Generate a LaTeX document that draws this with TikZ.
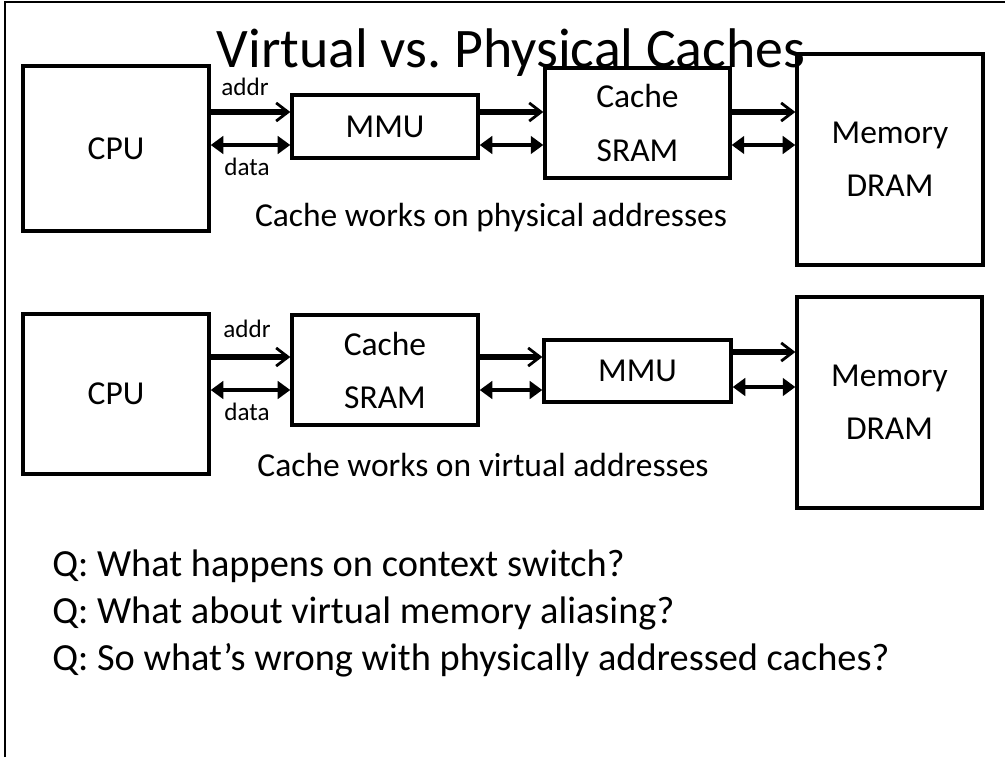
\documentclass[tikz,border=0pt]{standalone}
\usepackage{fontspec}
\setmainfont{Carlito}
\usetikzlibrary{arrows.meta}
\begin{document}
\begin{tikzpicture}[x=0.7164pt,y=-0.7164pt,
    unit/.style={draw,line width=2.4pt,inner sep=0pt,align=center,
      font=\fontsize{24}{38}\selectfont},
    addrbus/.style={line width=3.6pt,-{Straight Barb[length=8.5pt,width=13pt,line width=2pt]}},
    databus/.style={line width=3.2pt,{Triangle[length=9pt,width=12.5pt]}-{Triangle[length=9pt,width=12.5pt]}},
    lbl/.style={font=\fontsize{18}{20}\selectfont,inner sep=0pt},
    txt/.style={font=\fontsize{24}{28}\selectfont,inner sep=0pt,anchor=base}]
        \useasboundingbox (0,0) rectangle (1005,757);
        \draw[line width=2pt] (5,757) -- (5,2) -- (1005,2);
        \node[anchor=base,inner sep=0pt,font=\fontsize{40}{44}\selectfont] (title) at (511,67) {\frenchspacing Virtual vs. Physical Caches};
        % physical cache
        \node[unit,minimum width=133.3pt,minimum height=118.2pt] (cpuA) at (116,148.5) {CPU};
        \node[unit,minimum width=133.3pt,minimum height=45.1pt] (mmuA) at (385,126.5) {MMU};
        \node[unit,minimum width=132.5pt,minimum height=78.8pt] (cacheA) at (637.5,123) {Cache\\SRAM};
        \node[unit,minimum width=133.3pt,minimum height=151.2pt] (memA) at (890,159.5) {Memory\\DRAM};
        \draw[addrbus] (cpuA.east |- 0,112) -- (mmuA.west |- 0,112);
        \draw[databus] (cpuA.east |- 0,145) -- (mmuA.west |- 0,145);
        \draw[addrbus] (mmuA.east |- 0,112) -- (cacheA.west |- 0,112);
        \draw[databus] (mmuA.east |- 0,145) -- (cacheA.west |- 0,145);
        \draw[addrbus] (cacheA.east |- 0,112) -- (memA.west |- 0,112);
        \draw[databus] (cacheA.east |- 0,145) -- (memA.west |- 0,145);
        \node[lbl] (addrA) at (245,87) {addr};
        \node[lbl] (dataA) at (247,167) {data};
        \node[txt] (capA) at (491,226) {Cache works on physical addresses};
        % virtual cache
        \node[unit,minimum width=133.3pt,minimum height=114.6pt] (cpuB) at (116,394) {CPU};
        \node[unit,minimum width=133.3pt,minimum height=78.8pt] (cacheB) at (385,370) {Cache\\SRAM};
        \node[unit,minimum width=134pt,minimum height=44.4pt] (mmuB) at (637.5,371) {MMU};
        \node[unit,minimum width=132.5pt,minimum height=151.2pt] (memB) at (889.5,402.5) {Memory\\DRAM};
        \draw[addrbus] (cpuB.east |- 0,357) -- (cacheB.west |- 0,357);
        \draw[databus] (cpuB.east |- 0,390) -- (cacheB.west |- 0,390);
        \draw[addrbus] (cacheB.east |- 0,357) -- (mmuB.west |- 0,357);
        \draw[databus] (cacheB.east |- 0,390) -- (mmuB.west |- 0,390);
        \draw[addrbus] (mmuB.east |- 0,352) -- (memB.west |- 0,352);
        \draw[databus] (mmuB.east |- 0,387) -- (memB.west |- 0,387);
        \node[lbl] (addrB) at (247,329) {addr};
        \node[lbl] (dataB) at (247,412) {data};
        \node[txt] (capB) at (483,476) {Cache works on virtual addresses};
        % questions
        \node[txt,anchor=base west,font=\fontsize{27.5}{30}\selectfont] (q1) at (52,576) {Q: What happens on context switch?};
        \node[txt,anchor=base west,font=\fontsize{27.5}{30}\selectfont] (q2) at (52,623) {Q: What about virtual memory aliasing?};
        \node[txt,anchor=base west,font=\fontsize{27.5}{30}\selectfont] (q3) at (52,670) {Q: So what’s wrong with physically addressed caches?};
\end{tikzpicture}
\end{document}
